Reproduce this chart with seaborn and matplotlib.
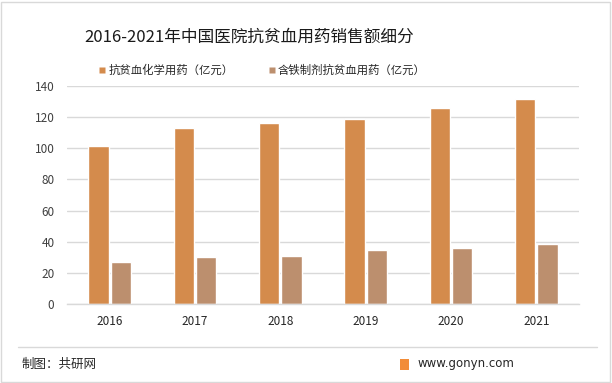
import matplotlib
matplotlib.use("Agg")
import matplotlib.pyplot as plt
import seaborn as sns
import pandas as pd
from matplotlib.patches import Rectangle
from matplotlib.lines import Line2D

years = ["2016", "2017", "2018", "2019", "2020", "2021"]
chem = [101.5, 113.1, 116.3, 118.9, 125.9, 131.7]
iron = [27.1, 30.3, 31.0, 34.8, 36.1, 38.7]
series_names = ["抗贫血化学用药（亿元）", "含铁制剂抗贫血用药（亿元）"]
yticks = [0, 20, 40, 60, 80, 100, 120, 140]
colors = ["#D48B4C", "#BC8F6E"]

df = pd.DataFrame({
    "year": years * 2,
    "value": chem + iron,
    "series": [series_names[0]] * len(years) + [series_names[1]] * len(years),
})

sns.set_theme(style="white")
plt.rcParams["font.family"] = ["Noto Sans CJK SC", "DejaVu Sans"]

W, H = 612, 383
fig = plt.figure(figsize=(W / 100, H / 100), dpi=100)
ax = fig.add_axes([67 / W, (H - 304) / H, 512 / W, (304 - 86) / H])

sns.barplot(data=df, x="year", y="value", hue="series", palette=colors,
            width=0.53, gap=0.1, ax=ax, saturation=1, legend=False)

ax.set_ylim(0, 140)
ax.set_yticks(yticks)
ax.set_yticklabels([str(v) for v in yticks])
ax.set_xlabel("")
ax.set_ylabel("")
ax.yaxis.grid(True, color="#D9D9D9", linewidth=1)
ax.set_axisbelow(True)
for s in ["left", "right", "top"]:
    ax.spines[s].set_visible(False)
ax.spines["bottom"].set_color("#D9D9D9")
ax.spines["bottom"].set_linewidth(1)
ax.tick_params(axis="y", length=0, pad=9, labelsize=8.5, labelcolor="#404040")
ax.tick_params(axis="x", length=0, pad=8, labelsize=8.5, labelcolor="#262626")

handles = [Line2D([], [], linestyle="none", marker="s", markersize=5,
                  markerfacecolor=c, markeredgecolor="none") for c in colors]
fig.legend(handles, series_names, loc="center", bbox_to_anchor=(262 / W, 1 - 70 / H),
           ncol=2, frameon=False, fontsize=8.2, handlelength=0.7,
           handletextpad=0.2, columnspacing=3.0, labelcolor="#262626")

fig.text(249 / W, 1 - 37 / H, "2016-2021年中国医院抗贫血用药销售额细分",
         ha="center", va="center", fontsize=12, color="#1a1a1a")

# separator and footer
fig.add_artist(Line2D([18 / W, 597 / W], [1 - 347 / H, 1 - 347 / H],
                      color="#D9D9D9", linewidth=1))
fig.text(22 / W, 1 - 364 / H, "制图：共研网", ha="left", va="center",
         fontsize=9, color="#262626")
fig.add_artist(Rectangle((400 / W, 1 - 370 / H), 9 / W, 11 / H,
                         facecolor="#F28C38", edgecolor="none"))
fig.text(418 / W, 1 - 364 / H, "www.gonyn.com", ha="left", va="center",
         fontsize=8.5, color="#262626", family=["DejaVu Sans"])

# outer border
fig.add_artist(Rectangle((1 / W, 1 / H), 1 - 3 / W, 1 - 3 / H, fill=False,
                         edgecolor="#D9D9D9", linewidth=1))

fig.savefig("out.png", dpi=100)
